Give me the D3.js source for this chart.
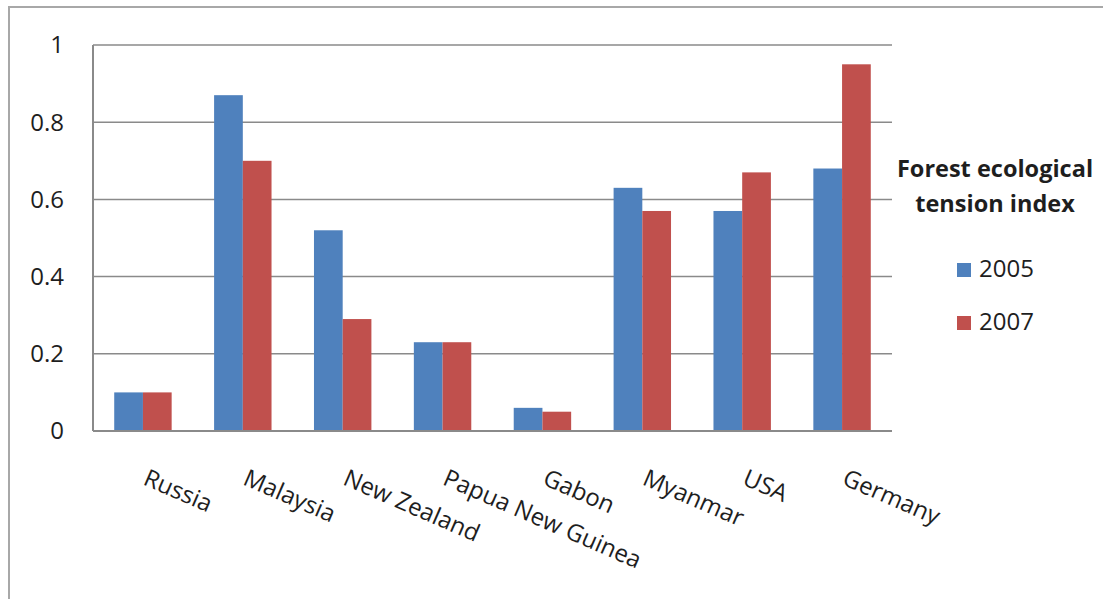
<!DOCTYPE html>
<html>
<head>
<meta charset="utf-8">
<script src="https://cdn.jsdelivr.net/npm/d3@7"></script>
<style>
  body { margin: 0; background: #fff; }
  text { font-family: "Open Sans", sans-serif; fill: #1e1e1e; }
</style>
</head>
<body>
<div id="chart"></div>
<script>
const countries = ["Russia", "Malaysia", "New Zealand", "Papua New Guinea", "Gabon", "Myanmar", "USA", "Germany"];
const years = ["2005", "2007"];
const values2005 = [0.10, 0.87, 0.52, 0.23, 0.06, 0.63, 0.57, 0.68];
const values2007 = [0.10, 0.70, 0.29, 0.23, 0.05, 0.57, 0.67, 0.95];
const yTicks = [0, 0.2, 0.4, 0.6, 0.8, 1];
const legendTitle = ["Forest ecological", "tension index"];
const colors = ["#4f81bd", "#c0504d"];

const width = 1103, height = 599;
const margin = { left: 93, top: 45, right: 211, bottom: 168 };
const plotW = width - margin.left - margin.right;
const plotH = height - margin.top - margin.bottom;

const svg = d3.select("#chart").append("svg")
    .attr("width", width)
    .attr("height", height);

// outer chart frame
svg.append("rect")
    .attr("x", 9).attr("y", 7)
    .attr("width", 1300).attr("height", 800)
    .attr("fill", "none")
    .attr("stroke", "#a8a8a8")
    .attr("stroke-width", 2);

const g = svg.append("g").attr("transform", `translate(${margin.left},${margin.top})`);

const x0 = d3.scaleBand().domain(countries).range([0, plotW])
    .paddingInner(0.425).paddingOuter(0.2125);
const x1 = d3.scaleBand().domain(years).range([0, x0.bandwidth()]);
const y = d3.scaleLinear().domain([0, 1]).range([plotH, 0]);

// gridlines
g.selectAll(".grid")
    .data(yTicks.filter(d => d > 0))
    .enter()
    .append("line")
    .attr("x1", 0).attr("x2", plotW)
    .attr("y1", d => y(d)).attr("y2", d => y(d))
    .attr("stroke", "#8a8a8a")
    .attr("stroke-width", 1.5);

// bars
const rows = countries.map((c, i) => ({ country: c, vals: [values2005[i], values2007[i]] }));
const groups = g.selectAll(".barGroup")
    .data(rows)
    .enter()
    .append("g")
    .attr("transform", d => `translate(${x0(d.country)},0)`);
groups.selectAll("rect")
    .data(d => d.vals.map((v, j) => ({ year: years[j], v: v, j: j })))
    .enter()
    .append("rect")
    .attr("x", d => x1(d.year))
    .attr("y", d => y(d.v))
    .attr("width", x1.bandwidth())
    .attr("height", d => plotH - y(d.v))
    .attr("fill", d => colors[d.j]);

// axes lines
g.append("line")
    .attr("x1", 0).attr("x2", 0).attr("y1", 0).attr("y2", plotH)
    .attr("stroke", "#8a8a8a").attr("stroke-width", 2);
g.append("line")
    .attr("x1", 0).attr("x2", plotW).attr("y1", plotH).attr("y2", plotH)
    .attr("stroke", "#8a8a8a").attr("stroke-width", 2);

// y tick labels
g.selectAll(".ylab")
    .data(yTicks)
    .enter()
    .append("text")
    .attr("x", -29)
    .attr("y", d => y(d))
    .attr("dy", "0.35em")
    .attr("text-anchor", "end")
    .style("font-size", "24px")
    .text(d => d3.format("~g")(d));

// category labels, rotated
g.selectAll(".xlab")
    .data(countries)
    .enter()
    .append("text")
    .attr("transform", d => `translate(${x0(d) + x0.bandwidth() / 2 - 1},${plotH + 53}) rotate(23.5)`)
    .style("font-size", "24px")
    .text(d => d);

// legend
const legend = svg.append("g").attr("transform", "translate(995,0)");
legend.selectAll(".ltitle")
    .data(legendTitle)
    .enter()
    .append("text")
    .attr("x", 0)
    .attr("y", (d, i) => 177 + i * 35)
    .attr("text-anchor", "middle")
    .style("font-size", "23.5px")
    .style("font-weight", "bold")
    .text(d => d);
const items = legend.selectAll(".litem")
    .data(years)
    .enter()
    .append("g")
    .attr("transform", (d, i) => `translate(0,${277 + i * 53})`);
items.append("rect")
    .attr("x", -38).attr("y", -14)
    .attr("width", 14).attr("height", 14)
    .attr("fill", (d, i) => colors[i]);
items.append("text")
    .attr("x", -16)
    .attr("y", 0)
    .style("font-size", "24px")
    .text(d => d);
</script>
</body>
</html>
